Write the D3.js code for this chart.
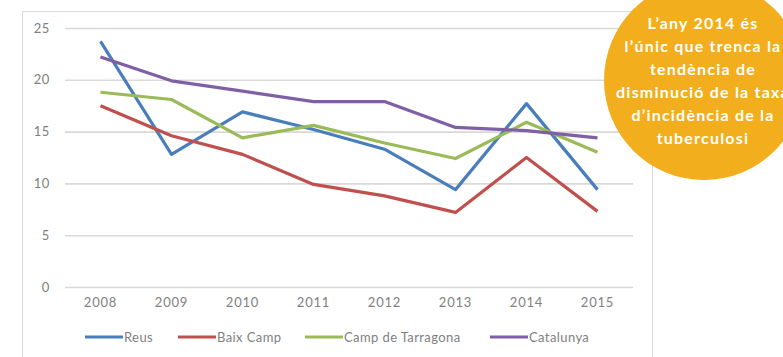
<!DOCTYPE html>
<html>
<head>
<meta charset="utf-8">
<script src="https://cdn.jsdelivr.net/npm/d3@7"></script>
<style>
  html, body { margin: 0; padding: 0; background: #ffffff; }
  svg { display: block; }
</style>
</head>
<body>
<svg id="chart" width="783" height="357"></svg>
<script>
// Taxa d'incidència de la tuberculosi (casos per 100.000 habitants)
const years = ["2008", "2009", "2010", "2011", "2012", "2013", "2014", "2015"];
const reus = [23.7, 12.8, 16.9, 15.2, 13.3, 9.4, 17.7, 9.4];
const baixCamp = [17.5, 14.6, 12.8, 9.9, 8.8, 7.2, 12.5, 7.3];
const campTarragona = [18.8, 18.1, 14.4, 15.6, 13.9, 12.4, 15.9, 13.0];
const catalunya = [22.2, 19.9, 18.9, 17.9, 17.9, 15.4, 15.1, 14.4];
const yTicks = [0, 5, 10, 15, 20, 25];
const seriesNames = ["Reus", "Baix Camp", "Camp de Tarragona", "Catalunya"];
const seriesColors = ["#4a7ebb", "#c0504d", "#9bbb59", "#7f5fa5"];
const calloutLines = [
  "L’any 2014 és",
  "l’únic que trenca la",
  "tendència de",
  "disminució de la taxa",
  "d’incidència de la",
  "tuberculosi"
];

const series = [reus, baixCamp, campTarragona, catalunya].map((vals, i) => ({
  name: seriesNames[i],
  color: seriesColors[i],
  values: vals
}));

const svg = d3.select("#chart");

// Chart frame
svg.append("rect")
  .attr("x", 22.5).attr("y", 11.5)
  .attr("width", 630).attr("height", 360)
  .attr("fill", "#ffffff")
  .attr("stroke", "#d9d9d9")
  .attr("stroke-width", 1);

const plot = { left: 65, right: 633, top: 28, bottom: 287 };

const x = d3.scaleBand()
  .domain(years)
  .range([plot.left, plot.right]);

const y = d3.scaleLinear()
  .domain([0, 25])
  .range([plot.bottom, plot.top]);

const labelFont = "Lato, 'Open Sans', sans-serif";

// Horizontal gridlines + y labels
const yAxis = d3.axisLeft(y)
  .tickValues(yTicks)
  .tickSize(-(plot.right - plot.left))
  .tickPadding(15);

const gy = svg.append("g")
  .attr("transform", `translate(${plot.left},0)`)
  .call(yAxis);
gy.select(".domain").remove();
gy.selectAll(".tick line")
  .attr("stroke", "#d9d9d9")
  .attr("stroke-width", 1.6);
gy.selectAll(".tick text")
  .attr("fill", "#7f7f7f")
  .style("font-family", labelFont)
  .style("font-size", "13px")
  .style("letter-spacing", "0.6px");

// Category labels
const xAxis = d3.axisBottom(x).tickSize(0).tickPadding(11);
const gx = svg.append("g")
  .attr("transform", `translate(0,${plot.bottom})`)
  .call(xAxis);
gx.select(".domain").remove();
gx.selectAll(".tick text")
  .attr("fill", "#7f7f7f")
  .style("font-family", labelFont)
  .style("font-size", "13px")
  .style("letter-spacing", "0.8px");

// Series lines
const line = d3.line()
  .x((d, i) => x(years[i]) + x.bandwidth() / 2)
  .y(d => y(d));

svg.append("g")
  .selectAll("path")
  .data(series)
  .join("path")
  .attr("d", d => line(d.values))
  .attr("fill", "none")
  .attr("stroke", d => d.color)
  .attr("stroke-width", 3.2)
  .attr("stroke-linejoin", "round")
  .attr("stroke-linecap", "butt");

// Legend
const legendX = [85, 178, 305, 490];
const legend = svg.append("g")
  .selectAll("g")
  .data(series)
  .join("g")
  .attr("transform", (d, i) => `translate(${legendX[i]},337)`);
legend.append("line")
  .attr("x1", 0).attr("x2", 38)
  .attr("y1", 0).attr("y2", 0)
  .attr("stroke", d => d.color)
  .attr("stroke-width", 3);
legend.append("text")
  .attr("x", 39)
  .attr("y", 0)
  .attr("dy", "0.35em")
  .attr("fill", "#7f7f7f")
  .style("font-family", labelFont)
  .style("font-size", "13px")
  .style("letter-spacing", "0.4px")
  .text(d => d.name);

// Callout bubble
const callout = svg.append("g");
callout.append("circle")
  .attr("cx", 704).attr("cy", 80).attr("r", 100)
  .attr("fill", "#f2ae1c");
callout.append("text")
  .attr("text-anchor", "middle")
  .attr("fill", "#ffffff")
  .style("font-family", "Lato, 'Open Sans', sans-serif")
  .style("font-weight", "bold")
  .style("font-size", "16px")
  .style("letter-spacing", "1.2px")
  .selectAll("tspan")
  .data(calloutLines)
  .join("tspan")
  .attr("x", 703)
  .attr("y", (d, i) => 29 + i * 23)
  .text(d => d);
</script>
</body>
</html>
